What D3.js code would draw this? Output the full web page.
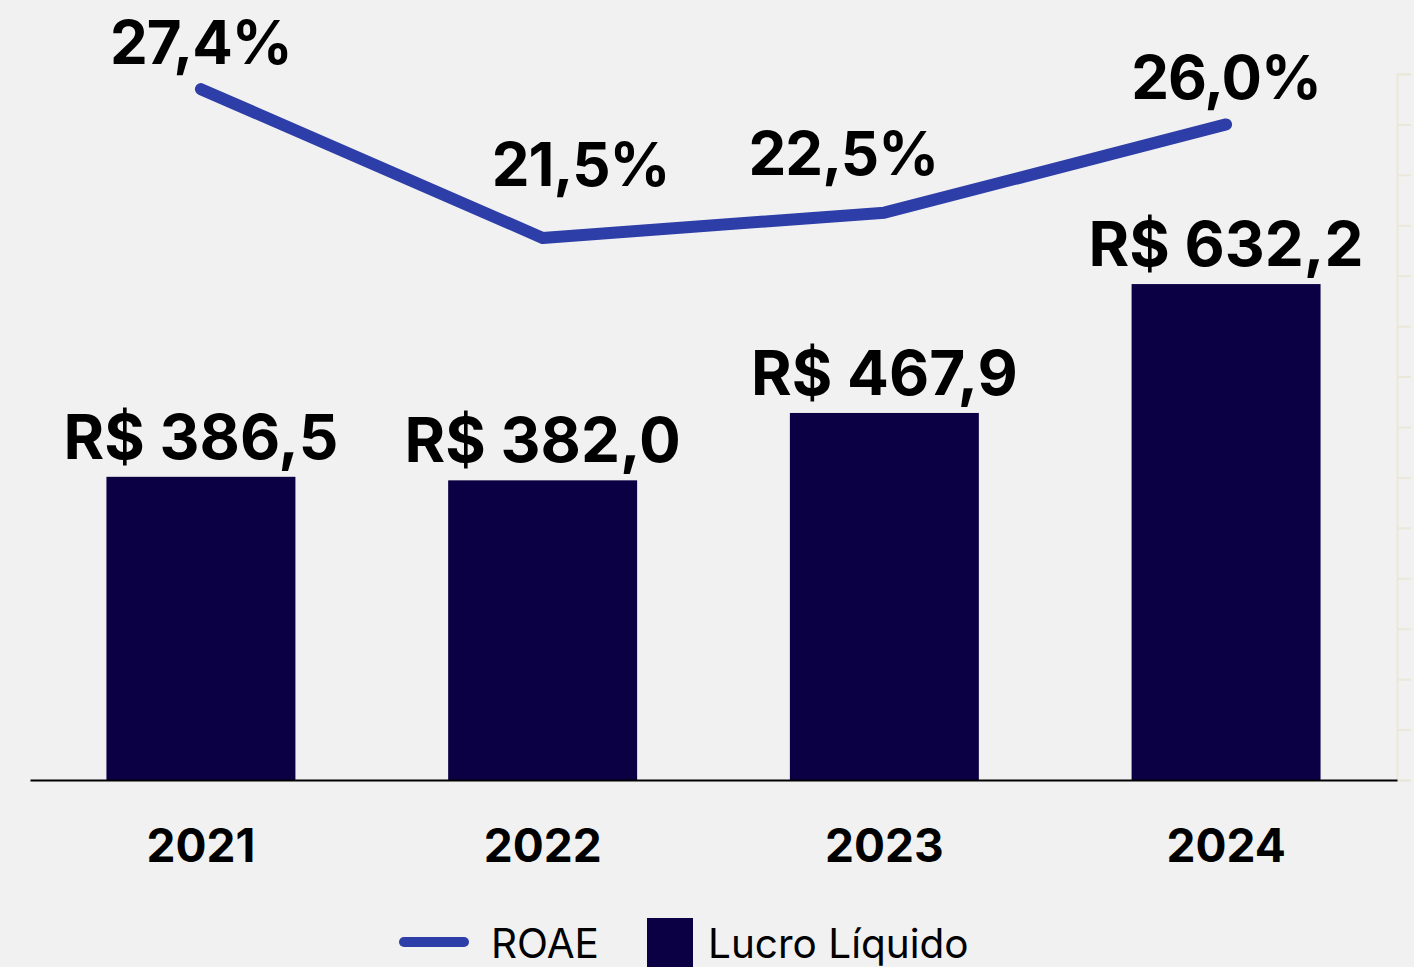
<!DOCTYPE html>
<html>
<head>
    <title>ROAE e Lucro Líquido</title>
    <script src="https://d3js.org/d3.v7.min.js"></script>
    <style>
      html, body { margin: 0; padding: 0; background: #f1f1f1; }
      svg { display: block; font-family: Inter, "Noto Sans", sans-serif; }
    </style>
</head>
<body>
    <svg width="1414" height="967"></svg>

    <script>
      // dados
      const years = ["2021", "2022", "2023", "2024"];
      const lucro = [386.5, 382.0, 467.9, 632.2];      // R$ milhões
      const roae = [27.4, 21.5, 22.5, 26.0];           // %
      const lucroLabels = ["R$ 386,5", "R$ 382,0", "R$ 467,9", "R$ 632,2"];
      const roaeLabels = ["27,4%", "21,5%", "22,5%", "26,0%"];

      const svg = d3.select("svg");
      const barColor = "#0b0044",
            lineColor = "#2e3ea8";

      svg.append("rect")
         .attr("width", 1414).attr("height", 967)
         .attr("fill", "#f1f1f1");

      // escalas
      const x = d3.scaleBand()
                  .domain(years)
                  .range([30, 1397])
                  .paddingInner(0.447)
                  .paddingOuter(0.2237);
      const y = d3.scaleLinear().domain([0, 900]).range([780, 74]);
      const y2 = d3.scaleLinear().domain([0, 28]).range([780, 74]);

      // eixo direito (quase invisível)
      const right = svg.append("g")
         .attr("transform", "translate(1397,0)")
         .call(d3.axisRight(y2).tickValues(d3.range(0, 29, 2)).tickSize(14).tickSizeOuter(14).tickFormat(""));
      right.selectAll("path, line").attr("stroke", "#ebe7da").attr("stroke-width", 2);

      // barras
      svg.selectAll(".bar")
         .data(lucro)
         .enter().append("rect")
         .attr("class", "bar")
         .attr("x", (d, i) => x(years[i]))
         .attr("y", d => y(d))
         .attr("width", x.bandwidth())
         .attr("height", d => y(0) - y(d))
         .attr("fill", barColor);

      // rótulos das barras
      svg.selectAll(".bar-label")
         .data(lucro)
         .enter().append("text")
         .attr("class", "bar-label")
         .attr("x", (d, i) => x(years[i]) + x.bandwidth() / 2)
         .attr("y", d => y(d) - 18)
         .attr("text-anchor", "middle")
         .attr("font-size", 62)
         .attr("font-weight", 700)
         .attr("fill", "#000")
         .text((d, i) => lucroLabels[i]);

      // eixo x
      const xAxis = svg.append("g")
         .attr("transform", "translate(0,780)")
         .call(d3.axisBottom(x).tickSize(0).tickSizeOuter(0));
      xAxis.select(".domain").attr("stroke", "#000").attr("stroke-width", 2);
      xAxis.selectAll("text")
           .attr("y", 82).attr("dy", 0)
           .attr("font-size", 46)
           .attr("font-weight", 700)
           .attr("font-family", "Inter, sans-serif")
           .attr("fill", "#000");

      // linha ROAE
      const cx = (d, i) => x(years[i]) + x.bandwidth() / 2;
      const line = d3.line().x(cx).y(d => y2(d));
      svg.append("path")
         .datum(roae)
         .attr("d", line)
         .attr("fill", "none")
         .attr("stroke", lineColor)
         .attr("stroke-width", 12)
         .attr("stroke-linecap", "round")
         .attr("stroke-linejoin", "round");

      // rótulos ROAE (os do meio ficam deslocados para não tocar a linha)
      const nudge = [[0, -25], [38, -52], [-41, -38], [0, -25]];
      svg.selectAll(".roae-label")
         .data(roae)
         .enter().append("text")
         .attr("class", "roae-label")
         .attr("x", (d, i) => cx(d, i) + nudge[i][0])
         .attr("y", (d, i) => y2(d) + nudge[i][1])
         .attr("text-anchor", "middle")
         .attr("font-size", 60)
         .attr("font-weight", 700)
         .attr("letter-spacing", -1)
         .attr("fill", "#000")
         .text((d, i) => roaeLabels[i]);

      // legenda
      const legend = svg.append("g");
      legend.append("line")
            .attr("x1", 404).attr("x2", 464)
            .attr("y1", 942).attr("y2", 942)
            .attr("stroke", lineColor)
            .attr("stroke-width", 10)
            .attr("stroke-linecap", "round");
      legend.append("text")
            .attr("x", 491).attr("y", 958)
            .attr("font-size", 40.5)
            .attr("fill", "#000")
            .text("ROAE");
      legend.append("rect")
            .attr("x", 647).attr("y", 918)
            .attr("width", 46).attr("height", 49)
            .attr("fill", barColor);
      legend.append("text")
            .attr("x", 708).attr("y", 958)
            .attr("font-size", 40.5)
            .attr("fill", "#000")
            .text("Lucro Líquido");
    </script>
</body>
</html>
